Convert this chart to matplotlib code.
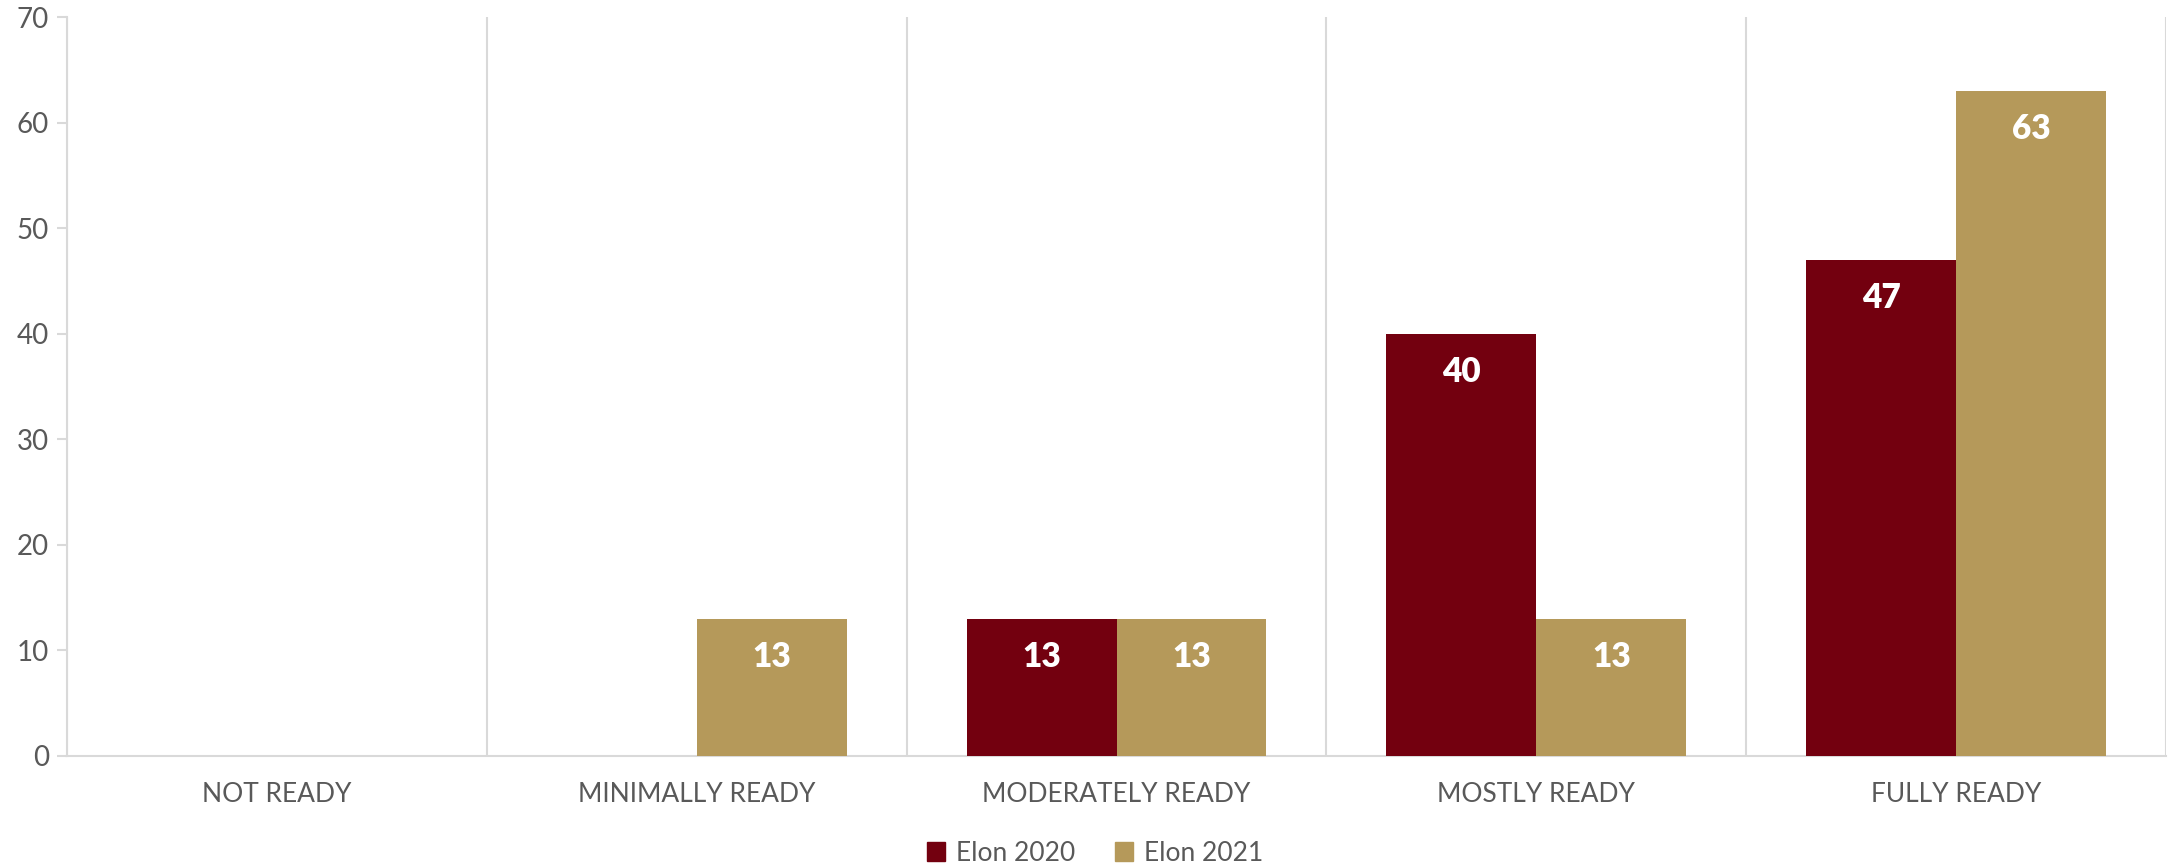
import matplotlib
matplotlib.use("Agg")
import matplotlib.pyplot as plt
import numpy as np
from matplotlib.patches import Patch

categories = ["NOT READY", "MINIMALLY READY", "MODERATELY READY", "MOSTLY READY", "FULLY READY"]
series_names = ["Elon 2020", "Elon 2021"]
elon_2020 = [0, 0, 13, 40, 47]
elon_2021 = [0, 13, 13, 13, 63]
y_ticks = [0, 10, 20, 30, 40, 50, 60, 70]

colors = ["#73000F", "#B5995A"]
grid_color = "#D9D9D9"
text_color = "#595959"

plt.rcParams['font.family'] = ['Lato', 'DejaVu Sans']

fig = plt.figure(figsize=(21.68, 8.68), dpi=100)
ax = fig.add_axes([67/2168, 1-756/868, (2166-67)/2168, (756-17)/868])

x = np.arange(len(categories))
w = 1/2.8
for i, (vals, c) in enumerate(zip([elon_2020, elon_2021], colors)):
    ax.bar(x + (i - 0.5) * w, vals, width=w, color=c, zorder=3)
    for xi, v in zip(x + (i - 0.5) * w, vals):
        if v > 0:
            ax.annotate(str(v), xy=(xi, v), xytext=(0, -38), textcoords='offset pixels',
                        ha='center', va='center', color='white', fontsize=24, fontweight='heavy')

ax.set_xlim(-0.5, len(categories) - 0.5)
ax.set_ylim(0, 70)
ax.set_yticks(y_ticks)
ax.set_xticks(x)
ax.set_xticklabels(categories)
ax.set_xticks(np.arange(-0.5, len(categories)), minor=True)
ax.tick_params(axis='x', which='major', length=0, pad=19, labelsize=19, labelcolor=text_color)
ax.tick_params(axis='x', which='minor', length=0)
ax.tick_params(axis='y', which='major', length=7, color=grid_color, width=1.5, direction='out',
               labelsize=20, labelcolor=text_color, pad=6)
ax.grid(axis='x', which='minor', color=grid_color, linewidth=1.5, zorder=0)
ax.grid(axis='x', which='major', visible=False)
for s in ['top', 'right']:
    ax.spines[s].set_visible(False)
for s in ['left', 'bottom']:
    ax.spines[s].set_color(grid_color)
    ax.spines[s].set_linewidth(1.5)

handles = [Patch(color=c, label=n) for c, n in zip(colors, series_names)]
fig.legend(handles=handles, loc='center', bbox_to_anchor=(0.505, 0.017), ncol=2, frameon=False,
           fontsize=19, labelcolor=text_color, handlelength=0.7, handleheight=0.7,
           handletextpad=0.4, columnspacing=1.5)

fig.savefig("out.png", dpi=100, facecolor='white')
